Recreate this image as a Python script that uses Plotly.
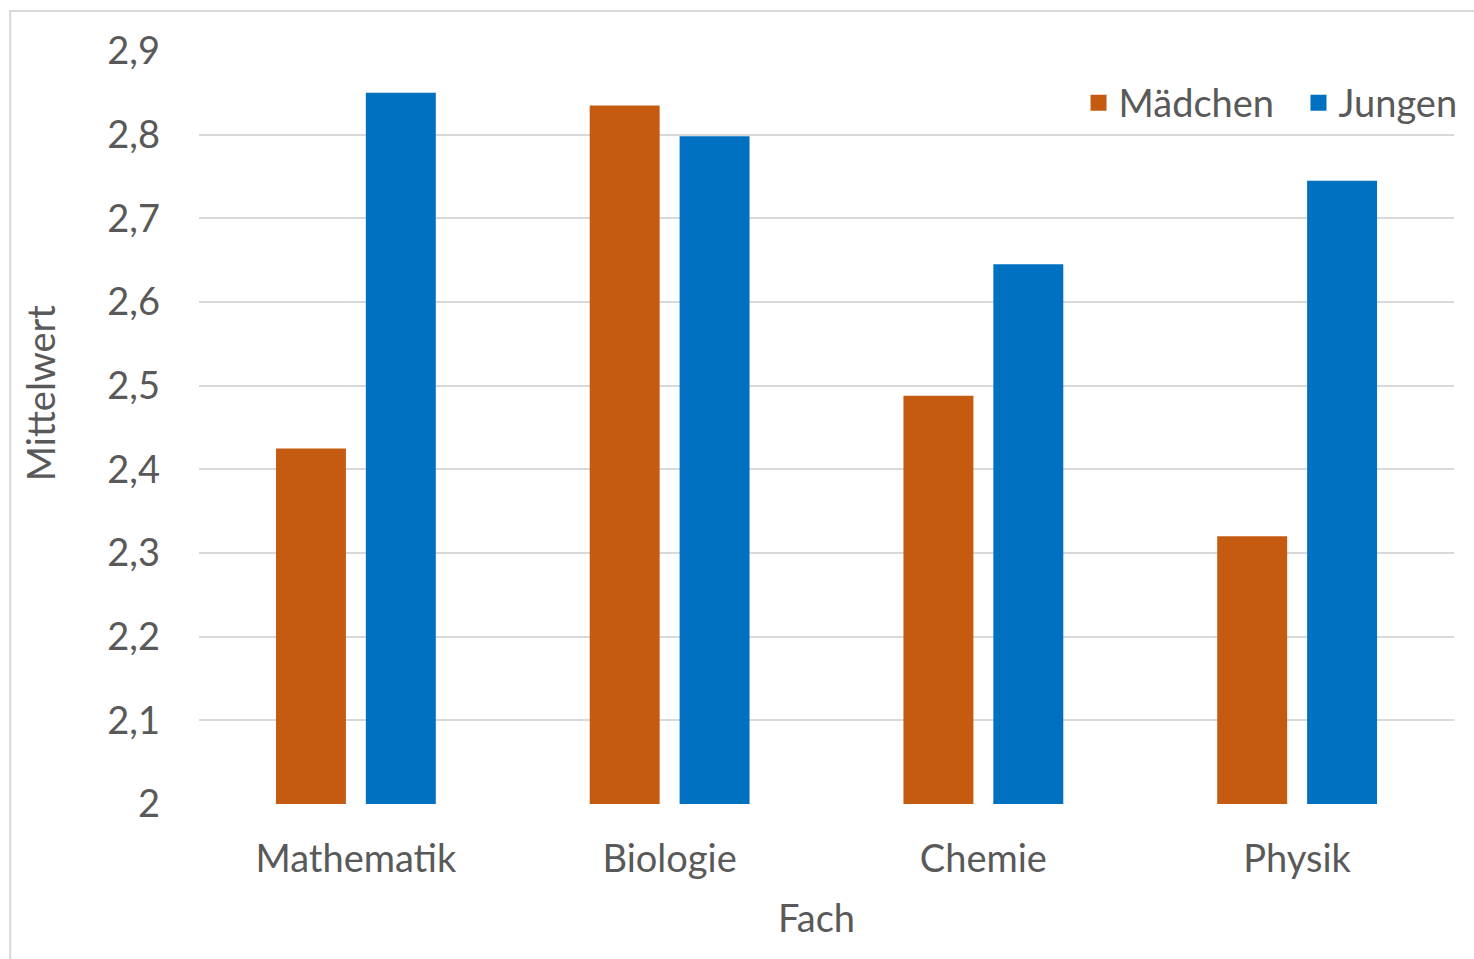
import plotly.graph_objects as go

categories = ["Mathematik", "Biologie", "Chemie", "Physik"]
maedchen = [2.425, 2.835, 2.488, 2.32]
jungen = [2.85, 2.798, 2.645, 2.745]
series_names = ["Mädchen", "Jungen"]
series_colors = ["#C55A11", "#0070C0"]
tick_vals = [2.0, 2.1, 2.2, 2.3, 2.4, 2.5, 2.6, 2.7, 2.8, 2.9]
tick_text = ["2", "2,1", "2,2", "2,3", "2,4", "2,5", "2,6", "2,7", "2,8", "2,9"]

font_family = "Lato"
text_color = "#595959"
grid_color = "#d9d9d9"

fig = go.Figure()
for name, vals, col in zip(series_names, [maedchen, jungen], series_colors):
    fig.add_trace(go.Bar(name=name, x=categories, y=vals, showlegend=False,
                         legendgroup=name,
                         marker=dict(color=col, line=dict(width=0))))
# legend entries with larger square symbols
for i, (name, col) in enumerate(zip(series_names, series_colors)):
    label = name + ("\u00a0\u00a0" if i == 0 else "")
    fig.add_trace(go.Scatter(name=label, x=[categories[0]], y=[None], mode="markers",
                             legendgroup=name, hoverinfo="skip",
                             marker=dict(symbol="square", size=20, color=col)))

fig.update_layout(
    width=1474, height=959,
    margin=dict(l=199, r=19, t=51, b=155),
    paper_bgcolor="white", plot_bgcolor="white",
    font=dict(family=font_family, size=38, color=text_color),
    barmode="group", bargap=0.427, bargroupgap=0.222,
    legend=dict(orientation="h", x=1.006, xanchor="right", y=0.931, yanchor="middle",
                font=dict(size=38, color=text_color), bgcolor="rgba(0,0,0,0)",
                itemwidth=30, traceorder="normal"),
    showlegend=True,
)
fig.update_yaxes(range=[2.0, 2.9], tickvals=tick_vals, ticktext=tick_text,
                 showgrid=True, gridcolor=grid_color, gridwidth=2,
                 zeroline=False, showline=False, ticks="",
                 ticklabelstandoff=38)
fig.update_xaxes(showgrid=False, showline=False, ticks="",
                 ticklabelstandoff=29)

fig.add_annotation(text="Fach", xref="paper", yref="paper",
                   x=(817 - 199) / 1256, y=(804 - 917) / 753,
                   xanchor="center", yanchor="middle", showarrow=False,
                   font=dict(size=38, color=text_color))
fig.add_annotation(text="Mittelwert", textangle=-90, xref="paper", yref="paper",
                   x=(40 - 199) / 1256, y=(804 - 393) / 753,
                   xanchor="center", yanchor="middle", showarrow=False,
                   font=dict(size=38, color=text_color))

# chart border (partly visible in the reference)
fig.add_shape(type="rect", xref="paper", yref="paper",
              x0=(10 - 199) / 1256, x1=1.2, y0=-0.4, y1=(804 - 11) / 753,
              line=dict(color=grid_color, width=2), fillcolor="rgba(0,0,0,0)",
              layer="below")

fig.write_html("out.html")
